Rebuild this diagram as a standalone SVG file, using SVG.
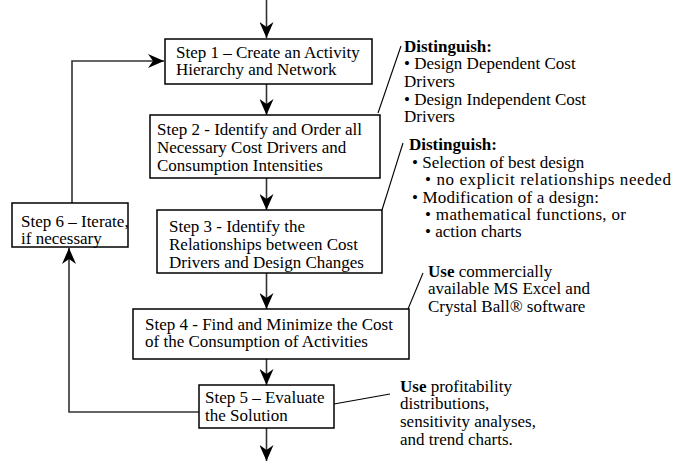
<svg xmlns="http://www.w3.org/2000/svg" width="676" height="461" viewBox="0 0 676 461">
<style>
  text { font-family: "Liberation Serif", "Times New Roman", serif; font-size: 17px; fill: #000; }
  .b { font-weight: bold; }
  .box { fill: #fff; stroke: #000; stroke-width: 1.5; }
  .flow { fill: none; stroke: #333; stroke-width: 1.6; }
  .leader { fill: none; stroke: #000; stroke-width: 1.1; }
</style>
<defs>
  <marker id="ah" viewBox="0 0 16 14" refX="16" refY="7" markerWidth="16" markerHeight="14" markerUnits="userSpaceOnUse" orient="auto">
    <path d="M0,0 L16,7 L0,14 L5,7 Z" fill="#000"/>
  </marker>
</defs>
<rect width="676" height="461" fill="#fff"/>

<g id="connectors">
  <line class="flow" x1="266.5" y1="0" x2="266.5" y2="38" marker-end="url(#ah)"/>
  <line class="flow" x1="266.5" y1="84" x2="266.5" y2="115" marker-end="url(#ah)"/>
  <line class="flow" x1="266.5" y1="178" x2="266.5" y2="210" marker-end="url(#ah)"/>
  <line class="flow" x1="266.5" y1="273" x2="266.5" y2="309" marker-end="url(#ah)"/>
  <line class="flow" x1="266.5" y1="359" x2="266.5" y2="385" marker-end="url(#ah)"/>
  <line class="flow" x1="266.5" y1="428" x2="266.5" y2="461" marker-end="url(#ah)"/>
  <polyline class="flow" points="72,203 72,61 164,61" marker-end="url(#ah)"/>
  <polyline class="flow" points="199,412 69,412 69,248" marker-end="url(#ah)"/>
  <line class="leader" x1="378" y1="113" x2="401" y2="46"/>
  <line class="leader" x1="382" y1="210" x2="403" y2="143"/>
  <line class="leader" x1="408" y1="309" x2="423" y2="273"/>
  <line class="leader" x1="334" y1="404" x2="390" y2="394"/>
</g>

<g id="step1">
  <rect class="box" x="165" y="39" width="207" height="45"/>
  <text x="176" y="58">Step 1 – Create an Activity</text>
  <text x="176" y="75">Hierarchy and Network</text>
</g>
<g id="step2">
  <rect class="box" x="150" y="115" width="230" height="63"/>
  <text x="157" y="135">Step 2 - Identify and Order all</text>
  <text x="157" y="153">Necessary Cost Drivers and</text>
  <text x="157" y="171">Consumption Intensities</text>
</g>
<g id="step3">
  <rect class="box" x="157" y="210" width="225" height="63"/>
  <text x="169" y="232">Step 3 - Identify the</text>
  <text x="169" y="250">Relationships between Cost</text>
  <text x="169" y="268">Drivers and Design Changes</text>
</g>
<g id="step4">
  <rect class="box" x="133" y="309" width="276" height="50"/>
  <text x="145" y="330">Step 4 - Find and Minimize the Cost</text>
  <text x="145" y="347">of the Consumption of Activities</text>
</g>
<g id="step5">
  <rect class="box" x="199" y="385" width="135" height="43"/>
  <text x="205" y="403">Step 5 – Evaluate</text>
  <text x="205" y="421">the Solution</text>
</g>
<g id="step6">
  <rect class="box" x="12" y="203" width="116" height="44"/>
  <text x="21" y="227">Step 6 – Iterate,</text>
  <text x="21" y="244">if necessary</text>
</g>

<g id="note1">
  <text class="b" x="404" y="52">Distinguish:</text>
  <text x="404" y="69">• Design Dependent Cost</text>
  <text x="404" y="87">Drivers</text>
  <text x="404" y="105">• Design Independent Cost</text>
  <text x="404" y="122">Drivers</text>
</g>
<g id="note2">
  <text class="b" x="409" y="150">Distinguish:</text>
  <text x="412" y="168">• Selection of best design</text>
  <text x="425" y="185" textLength="246" lengthAdjust="spacing">• no explicit relationships needed</text>
  <text x="412" y="203" textLength="187" lengthAdjust="spacing">• Modification of a design:</text>
  <text x="425" y="220" textLength="201" lengthAdjust="spacing">• mathematical functions, or</text>
  <text x="425" y="237">• action charts</text>
</g>
<g id="note3">
  <text x="428" y="277"><tspan class="b">Use</tspan> commercially</text>
  <text x="428" y="294">available MS Excel and</text>
  <text x="428" y="312">Crystal Ball® software</text>
</g>
<g id="note4">
  <text x="400" y="392"><tspan class="b">Use</tspan> profitability</text>
  <text x="400" y="409">distributions,</text>
  <text x="400" y="427">sensitivity analyses,</text>
  <text x="400" y="445">and trend charts.</text>
</g>
</svg>
